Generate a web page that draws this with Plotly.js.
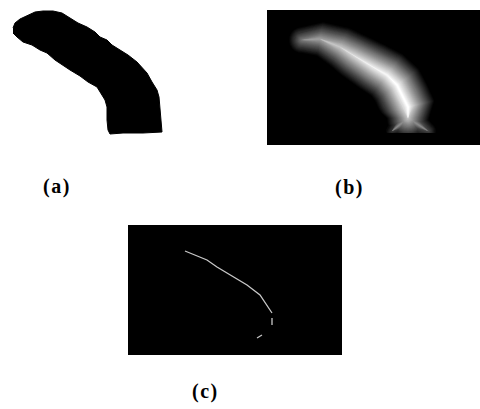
<!DOCTYPE html>
<html>
<head>
<meta charset="utf-8">
<script src="https://cdn.plot.ly/plotly-3.0.1.min.js"></script>
<style>
html,body{margin:0;padding:0;background:#fff;}
#chart{width:480px;height:409px;}
.annotation-text{letter-spacing:1.5px;}
</style>
</head>
<body>
<div id="chart"></div>
<script>
// Panel (a): binary shape outline (pixel coordinates)
var shapeX = [13,15,20,27,35,43,53,62,68,78,87,95,100,107,112,120,128,137,143,147,152,157,159,160,161,162,143,123,110,108,107,107,105,100,97,88,80,70,62,55,47,40,32,23,17,13];
var shapeY = [28,23,19,16,12,11,11,13,17,23,27,32,37,40,45,50,55,62,68,73,82,90,97,107,120,132,133,133,134,130,120,107,100,92,87,82,76,70,65,60,53,50,45,42,37,33];

// Panel (b): ridge of the distance map, with distance value (radius) at each point
var ridgeX = [302,320,340,353,373,387,397,403,408,408];
var ridgeY = [40,39,47,55,67,75,85,97,107,118];
var ridgeR = [13,17,21,23,25,26,27,27,27,21];
// bottom branches of the ridge
var branchLX = [408,392], branchLY = [118,131], branchLR = [15,6];
var branchRX = [408,428], branchRY = [118,131], branchRR = [15,8];

// Panel (c): skeleton (null = gap)
var skelX = [185,207,217,247,260,272,null,272,272,null,257,262];
var skelY = [251,260,267,285,295,313,null,318,325,null,338,335];

// Panel labels
var labels = ['(a)','(b)','(c)'];
var labelPos = [[57,186],[349,187],[205,391]];

var W = 480, H = 409;
function px(x){return x/W;}
function py(y){return 1 - y/H;}

var traces = [];
traces.push({x:shapeX, y:shapeY, xaxis:'x', yaxis:'y', mode:'lines', fill:'toself',
  fillcolor:'#000', line:{color:'#000', width:1}, hoverinfo:'skip'});

// level-set polygon of a ridge chain at distance level L
function levelPolygon(X, Y, R, L){
  var n = X.length, P = [], left = [], right = [], T = [], Nn = [];
  for (var i = 0; i < n; i++) {
    var a = Math.max(i-1,0), b = Math.min(i+1,n-1);
    var dx = X[b]-X[a], dy = Y[b]-Y[a], len = Math.sqrt(dx*dx+dy*dy) || 1;
    T.push([dx/len, dy/len]); Nn.push([-dy/len, dx/len]);
    var h = Math.max(R[i]-L, 0);
    left.push([X[i]+Nn[i][0]*h, Y[i]+Nn[i][1]*h]);
    right.push([X[i]-Nn[i][0]*h, Y[i]-Nn[i][1]*h]);
  }
  var steps = 10, j, ang, h0 = Math.max(R[0]-L,0), h1 = Math.max(R[n-1]-L,0);
  for (i = 0; i < n; i++) P.push(left[i]);
  for (j = 1; j < steps; j++) { ang = Math.PI*j/steps;
    P.push([X[n-1] + h1*(Math.cos(ang)*Nn[n-1][0] + Math.sin(ang)*T[n-1][0]),
            Y[n-1] + h1*(Math.cos(ang)*Nn[n-1][1] + Math.sin(ang)*T[n-1][1])]); }
  for (i = n-1; i >= 0; i--) P.push(right[i]);
  for (j = 1; j < steps; j++) { ang = Math.PI*j/steps;
    P.push([X[0] - h0*(Math.cos(ang)*Nn[0][0] + Math.sin(ang)*T[0][0]),
            Y[0] - h0*(Math.cos(ang)*Nn[0][1] + Math.sin(ang)*T[0][1])]); }
  P.push(P[0]);
  return {x:P.map(function(p){return p[0];}), y:P.map(function(p){return p[1];})};
}

var chains = [[ridgeX,ridgeY,ridgeR],[branchLX,branchLY,branchLR],[branchRX,branchRY,branchRR]];
var rmax = Math.max.apply(null, ridgeR);
var N = 30;
for (var k = 0; k < N; k++) {
  var L = rmax*k/N;
  var g = Math.round(255*Math.pow((k+1)/N, 1.05));
  var col = 'rgb('+g+','+g+','+g+')';
  chains.forEach(function(c){
    if (Math.max.apply(null, c[2]) <= L) return;
    var poly = levelPolygon(c[0], c[1], c[2], L);
    traces.push({x:poly.x, y:poly.y, xaxis:'x2', yaxis:'y2', mode:'lines', fill:'toself',
      fillcolor:col, line:{width:0, color:col}, hoverinfo:'skip'});
  });
}

traces.push({x:skelX, y:skelY, xaxis:'x3', yaxis:'y3', mode:'lines',
  line:{color:'#c8c8c8', width:1.3}, connectgaps:false, hoverinfo:'skip'});

function ax(x0,x1){return {domain:[px(x0),px(x1)], range:[x0,x1], visible:false, fixedrange:true};}
function ay(y0,y1){return {domain:[py(y1),py(y0)], range:[y1,y0], visible:false, fixedrange:true};}

var xa = ax(0,240), ya = ay(0,160);
var xb = ax(267,480), yb = ay(10,133);
var xc = ax(128,342), yc = ay(225,355);
xb.anchor='y2'; yb.anchor='x2'; xc.anchor='y3'; yc.anchor='x3';

var layout = {
  width:W, height:H, margin:{l:0,r:0,t:0,b:0},
  paper_bgcolor:'#fff', plot_bgcolor:'rgba(0,0,0,0)', showlegend:false,
  xaxis:xa, yaxis:ya, xaxis2:xb, yaxis2:yb, xaxis3:xc, yaxis3:yc,
  shapes:[
    {type:'rect', xref:'paper', yref:'paper', x0:px(267), x1:px(480), y0:py(145), y1:py(10), fillcolor:'#000', line:{width:0}, layer:'below'},
    {type:'rect', xref:'paper', yref:'paper', x0:px(128), x1:px(342), y0:py(355), y1:py(225), fillcolor:'#000', line:{width:0}, layer:'below'}
  ],
  annotations: labels.map(function(t,k){
    return {text:'<b>'+t+'</b>', xref:'paper', yref:'paper', x:px(labelPos[k][0]), y:py(labelPos[k][1]),
      xanchor:'center', yanchor:'middle', showarrow:false,
      font:{family:'Liberation Serif', size:20, color:'#000'}};
  })
};

Plotly.newPlot('chart', traces, layout, {staticPlot:true, displayModeBar:false});
</script>
</body>
</html>
